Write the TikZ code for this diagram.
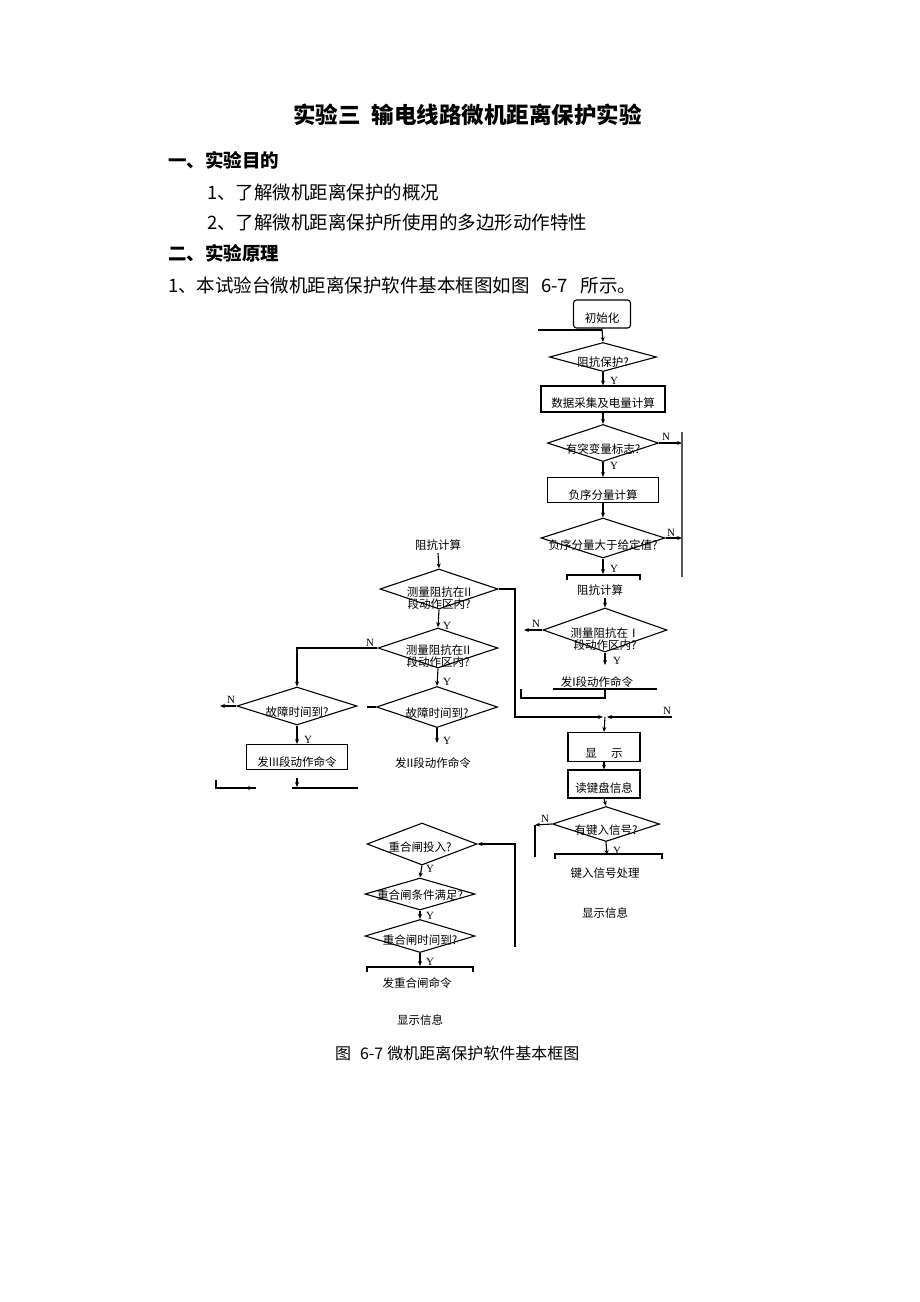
\documentclass[tikz,border=0pt]{standalone}
\usepackage{fontspec}
\setmainfont{Noto Sans CJK SC}
\newfontfamily\serlat{Liberation Serif}
\usetikzlibrary{arrows.meta,shapes.geometric}
\newcommand\myfs[1]{\fontsize{#1}{#1}\selectfont}
\tikzset{
  ln/.style={line width=1.1pt},
  arr/.style={ln,-{Stealth[length=5pt,width=4pt]}},
  dia/.style={diamond,draw,ln,inner sep=0pt},
  box/.style={rectangle,draw,ln,inner sep=0pt,font=\myfs{11.5}},
  txt/.style={inner sep=0pt,font=\myfs{11.5}},
  lbl/.style={inner sep=0pt,font=\serlat\myfs{11}},
  body/.style={inner sep=0pt,anchor=west,font=\myfs{18.5}},
  head/.style={inner sep=0pt,anchor=west,font=\bfseries\myfs{18.5}}
}
\begin{document}
\begin{tikzpicture}[x=1pt,y=-1pt]
\useasboundingbox (0,0) rectangle (920,1302);
% ---------- page text ----------
\node[inner sep=0pt,anchor=west,font=\bfseries\myfs{22.5}] (title) at (293,115) {实验三\hspace{0.5em}输电线路微机距离保护实验};
\node[head] (h1) at (168,160) {一、实验目的};
\node[body] (p1) at (207,192) {1、了解微机距离保护的概况};
\node[body] (p2) at (207,222) {2、了解微机距离保护所使用的多边形动作特性};
\node[head] (h2) at (168,253) {二、实验原理};
\node[body] (p3) at (168,285) {1、本试验台微机距离保护软件基本框图如图\hspace{0.6em}6-7\hspace{0.7em}所示。};
\node[inner sep=0pt,anchor=west,font=\myfs{16}] (cap) at (335,1053) {图\hspace{0.55em}6-7\hspace{0.25em}微机距离保护软件基本框图};
% ---------- right column ----------
\node[box,rounded corners=3pt,minimum width=57,minimum height=28] (init) at (602,314) {};
\node[txt] (tinit) at (602,318) {初始化};
\coordinate (in1) at (538,330);
\draw[ln] (in1) -- (in1 -| init.south);
\node[dia,minimum width=107,minimum height=29] (d1) at (603,357) {};
\node[txt] (td1) at (603,362) {阻抗保护?};
\draw[arr] (init.south) -- (d1.north);
\node[box,minimum width=124,minimum height=26] (b1) at (603,399) {};
\node[txt] (tb1) at (603,403) {数据采集及电量计算};
\draw[arr] (d1.south) -- (b1.north);
\node[lbl] (y1) at (614,381) {Y};
\node[dia,minimum width=111,minimum height=37] (d2) at (603,443) {};
\node[txt] (td2) at (603,449) {有突变量标志?};
\draw[arr] (b1.south) -- (d2.north);
\coordinate (rn1) at (682,443);
\draw[arr] (d2.east) -- (rn1);
\node[lbl] (n1) at (666,437) {N};
\coordinate (rv1) at (682,432);
\coordinate (rv2) at (682,577);
\draw[ln,gray!70!black,line width=1.4pt] (rv1) -- (rv2);
\node[box,minimum width=111,minimum height=25] (b2) at (603,490) {};
\node[txt] (tb2) at (603,495) {负序分量计算};
\draw[arr] (d2.south) -- (b2.north);
\node[lbl] (y2) at (614,466) {Y};
\node[dia,minimum width=124,minimum height=40] (d3) at (603,538) {};
\node[txt] (td3) at (603,545) {负序分量大于给定值?};
\draw[arr] (b2.south) -- (d3.north);
\coordinate (rn2) at (682,538);
\draw[arr] (d3.east) -- (rn2);
\node[lbl] (n2) at (671,533) {N};
\coordinate (ob1) at (603,574);
\draw[arr] (d3.south) -- (ob1);
\node[lbl] (y3) at (614,569) {Y};
\coordinate (ob1l) at (567,580);
\coordinate (ob1r) at (640,580);
\draw[ln] (ob1l) -- (567,575) -- (640,575) -- (ob1r);
\node[txt] (zk1) at (600,590) {阻抗计算};
\node[dia,minimum width=124,minimum height=44] (d4) at (605,630) {};
\draw[arr] (605,598) -- (d4.north);
\node[txt,align=center] (td4) at (605,639) {测量阻抗在Ⅰ\\[1pt]段动作区内?};
\coordinate (n4e) at (524,630);
\draw[arr] (d4.west) -- (n4e);
\node[lbl] (n4) at (536,624) {N};
\coordinate (y4e) at (605,665);
\draw[arr] (d4.south) -- (y4e);
\node[lbl] (y4) at (617,661) {Y};
\node[txt] (fa1) at (597,682) {发I段动作命令};
\draw[ln] (553,689) -- (657,689);
\coordinate (br1) at (521,689);
\coordinate (br2) at (605,689);
\draw[ln] (br1) -- (521,698) -- (605,698) -- (br2);
% merge point
\coordinate (mg) at (605,717);
\coordinate (mgr) at (672,717);
\draw[arr] (mgr) -- (607,717);
\node[lbl] (n5) at (667,711) {N};
\node[box,minimum width=72,minimum height=29] (b3) at (604,747) {};
\node[txt] (tb3) at (604,753) {显\quad\ 示};
\draw[arr] (mg) -- (b3.north);
\node[box,minimum width=72,minimum height=28] (b4) at (604,784) {};
\node[txt] (tb4) at (604,788) {读键盘信息};
\draw[arr] (b3.south) -- (b4.north);
\node[dia,minimum width=107,minimum height=35] (d6) at (606,824) {};
\node[txt] (td6) at (606,830) {有键入信号?};
\draw[arr] (b4.south) -- (d6.north);
\coordinate (n6e) at (535,825);
\draw[arr] (d6.west) -- (n6e);
\draw[ln] (n6e) -- (535,857);
\node[lbl] (n6) at (545,819) {N};
\coordinate (y6e) at (607,855);
\draw[arr] (d6.south) -- (y6e);
\node[lbl] (y6) at (617,851) {Y};
\draw[ln] (555,859) -- (555,854) -- (662,854) -- (662,859);
\node[txt] (jr) at (605,873) {键入信号处理};
\node[txt] (xs1) at (605,913) {显示信息};
% ---------- column 2 ----------
\node[txt] (zk2) at (438,545) {阻抗计算};
\node[dia,minimum width=118,minimum height=40] (d5) at (439,589) {};
\draw[arr] (438,553) -- (d5.north);
\node[txt,align=center] (td5) at (439,598) {测量阻抗在II\\[1pt]段动作区内?};
\coordinate (c2r) at (515,589);
\draw[arr] (d5.east) -- (c2r) -- (c2r |- mg) -- (603,717);
\node[dia,minimum width=120,minimum height=40] (d7) at (438,648) {};
\draw[arr] (d5.south) -- (d7.north);
\node[lbl] (y5) at (447,626) {Y};
\node[txt,align=center] (td7) at (438,656) {测量阻抗在II\\[1pt]段动作区内?};
\node[lbl] (n7) at (370,643) {N};
\node[dia,minimum width=121,minimum height=41] (d9) at (437,707) {};
\node[txt] (td9) at (437,713) {故障时间到?};
\draw[arr] (d7.south) -- (d9.north);
\node[lbl] (y7) at (447,682) {Y};
\coordinate (d9l) at (367,707);
\draw[ln] (d9.west) -- (d9l);
\coordinate (y9e) at (437,743);
\draw[arr] (d9.south) -- (y9e);
\node[lbl] (y9) at (447,741) {Y};
\node[txt] (fa2) at (433,763) {发II段动作命令};
% ---------- column 3 ----------
\node[dia,minimum width=120,minimum height=38] (d8) at (297,706) {};
\node[txt] (td8) at (297,712) {故障时间到?};
\coordinate (c3t) at (297,648);
\draw[arr] (d7.west) -- (c3t) -- (d8.north);
\coordinate (n8e) at (220,706);
\draw[arr] (d8.west) -- (n8e);
\node[lbl] (n8) at (231,700) {N};
\node[box,minimum width=101,minimum height=25] (b5) at (297,757) {};
\node[txt] (tb5) at (297,762) {发III段动作命令};
\draw[arr] (d8.south) -- (b5.north);
\node[lbl] (y8) at (308,740) {Y};
\coordinate (c3a) at (216,780);
\coordinate (c3b) at (252,788);
\draw[ln] (c3a) |- (c3b);
\draw[arr] (256,788) -- (245,788);
\coordinate (c3c) at (292,788);
\coordinate (c3d) at (358,788);
\draw[ln,line width=1.4pt] (c3c) -- (c3d);
\draw[arr] (297,778) -- (297,787);
% ---------- column 4 ----------
\node[dia,minimum width=110,minimum height=42] (d10) at (422,844) {};
\node[txt] (td10) at (420,847) {重合闸投入?};
\coordinate (rt1) at (515,947);
\coordinate (rt2) at (515,844);
\draw[arr] (rt1) -- (rt2) -- (d10.east);
\node[dia,minimum width=110,minimum height=32] (d11) at (420,894) {};
\node[txt] (td11) at (420,895) {重合闸条件满足?};
\draw[arr] (d10.south) -- (d11.north);
\node[lbl] (y10) at (430,869) {Y};
\node[dia,minimum width=110,minimum height=33] (d12) at (420,936) {};
\node[txt] (td12) at (420,940) {重合闸时间到?};
\draw[arr] (d11.south) -- (d12.north);
\node[lbl] (y11) at (430,916) {Y};
\coordinate (y12e) at (420,966);
\draw[arr] (d12.south) -- (y12e);
\node[lbl] (y12) at (430,962) {Y};
\draw[ln] (367,972) -- (367,967) -- (473,967) -- (473,972);
\node[txt] (fchz) at (417,983) {发重合闸命令};
\node[txt] (xs2) at (420,1020) {显示信息};
\end{tikzpicture}
\end{document}
